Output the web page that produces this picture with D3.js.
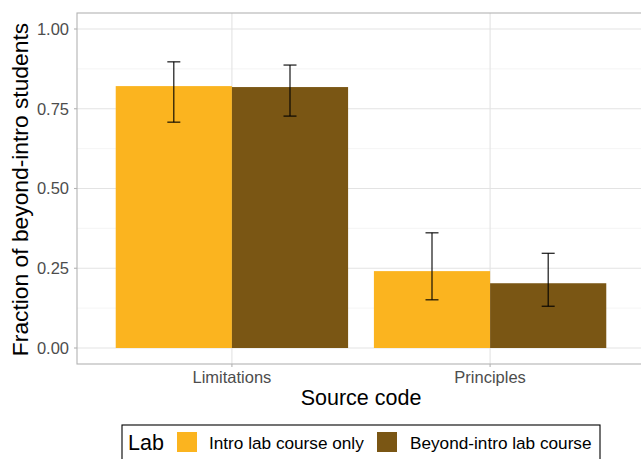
<!DOCTYPE html>
<html><head><meta charset="utf-8">
<script src="https://cdn.jsdelivr.net/npm/d3@7"></script>
<style>body{margin:0;background:#fff}svg{display:block;font-family:"Liberation Sans",Arial,sans-serif}</style>
</head><body><svg id="c" width="641" height="459"></svg>
<script>
const categories = ["Limitations", "Principles"];
const groups = ["Intro lab course only", "Beyond-intro lab course"];
const introValues = [0.821, 0.241];
const introLower = [0.708, 0.151];
const introUpper = [0.897, 0.361];
const beyondValues = [0.818, 0.203];
const beyondLower = [0.727, 0.131];
const beyondUpper = [0.887, 0.297];
const yTicks = [0, 0.25, 0.5, 0.75, 1.0];
const yMinor = [0.125, 0.375, 0.625, 0.875];
const colors = ["#FBB41F", "#7A5614"];

const data = [];
categories.forEach((c, i) => {
  data.push({cat: c, grp: groups[0], v: introValues[i], lo: introLower[i], hi: introUpper[i]});
  data.push({cat: c, grp: groups[1], v: beyondValues[i], lo: beyondLower[i], hi: beyondUpper[i]});
});

const svg = d3.select("#c");
const L = 77, R = 645, T = 13, B = 364;
const y = d3.scaleLinear().domain([0, 1]).range([348, 29]);
// ggplot-style discrete axis: expand 0.6 each side, bar width 0.9
const step = (R - L) / 2.2;
const cx = c => L + step * (0.6 + categories.indexOf(c));
const bw = 0.9 * step;
const sub = d3.scaleBand().domain(groups).range([-bw / 2, bw / 2]);
const color = d3.scaleOrdinal().domain(groups).range(colors);

// grid
const g = svg.append("g");
g.selectAll(".mn").data(yMinor).join("line").attr("x1", L).attr("x2", R)
  .attr("y1", d => y(d)).attr("y2", d => y(d)).attr("stroke", "#EFEFEF").attr("stroke-width", 0.6);
g.selectAll(".mj").data(yTicks).join("line").attr("x1", L).attr("x2", R)
  .attr("y1", d => y(d)).attr("y2", d => y(d)).attr("stroke", "#E3E3E3").attr("stroke-width", 1.1);
g.selectAll(".vx").data(categories).join("line").attr("x1", d => cx(d)).attr("x2", d => cx(d))
  .attr("y1", T).attr("y2", B).attr("stroke", "#E3E3E3").attr("stroke-width", 1.1);

// bars
svg.append("g").selectAll("rect").data(data).join("rect")
  .attr("x", d => cx(d.cat) + sub(d.grp)).attr("width", sub.bandwidth())
  .attr("y", d => y(d.v)).attr("height", d => y(0) - y(d.v)).attr("fill", d => color(d.grp));

// error bars
const eb = svg.append("g").attr("stroke", "#000").attr("stroke-width", 1.1);
data.forEach(d => {
  const mx = cx(d.cat) + sub(d.grp) + sub.bandwidth() / 2;
  eb.append("line").attr("x1", mx).attr("x2", mx).attr("y1", y(d.lo)).attr("y2", y(d.hi));
  eb.append("line").attr("x1", mx - 6.5).attr("x2", mx + 6.5).attr("y1", y(d.lo)).attr("y2", y(d.lo));
  eb.append("line").attr("x1", mx - 6.5).attr("x2", mx + 6.5).attr("y1", y(d.hi)).attr("y2", y(d.hi));
});

// panel border
svg.append("rect").attr("x", L).attr("y", T).attr("width", R - L).attr("height", B - T)
  .attr("fill", "none").attr("stroke", "#B3B3B3").attr("stroke-width", 1.1);

// y axis
const ya = svg.append("g");
yTicks.forEach(t => {
  ya.append("line").attr("x1", L - 3).attr("x2", L).attr("y1", y(t)).attr("y2", y(t)).attr("stroke", "#B3B3B3").attr("stroke-width", 1.1);
  ya.append("text").attr("x", L - 8).attr("y", y(t)).attr("dy", "0.36em").attr("text-anchor", "end")
    .attr("fill", "#4D4D4D").attr("font-size", 16.5).text(d3.format(".2f")(t));
});
// x axis
categories.forEach(c => {
  ya.append("line").attr("x1", cx(c)).attr("x2", cx(c)).attr("y1", B).attr("y2", B + 3).attr("stroke", "#B3B3B3").attr("stroke-width", 1.1);
  ya.append("text").attr("x", cx(c)).attr("y", 383).attr("text-anchor", "middle")
    .attr("fill", "#4D4D4D").attr("font-size", 16.5).text(c);
});

svg.append("text").attr("x", (L + R) / 2).attr("y", 405).attr("text-anchor", "middle")
  .attr("font-size", 21.5).attr("fill", "#000").text("Source code");
svg.append("text").attr("transform", `translate(28,189.5) rotate(-90)`).attr("text-anchor", "middle")
  .attr("font-size", 22.8).attr("fill", "#000").text("Fraction of beyond-intro students");

// legend
const lg = svg.append("g");
lg.append("rect").attr("x", 122).attr("y", 425).attr("width", 478).attr("height", 50)
  .attr("fill", "#fff").attr("stroke", "#000").attr("stroke-width", 1.1);
lg.append("text").attr("x", 128).attr("y", 450).attr("font-size", 21.5).text("Lab");
const keyX = [177, 377], labX = [209, 410];
groups.forEach((gname, i) => {
  lg.append("rect").attr("x", keyX[i]).attr("y", 432).attr("width", 20).attr("height", 20).attr("fill", color(gname));
  lg.append("text").attr("x", labX[i]).attr("y", 449).attr("font-size", 17.2).text(gname);
});
</script></body></html>
